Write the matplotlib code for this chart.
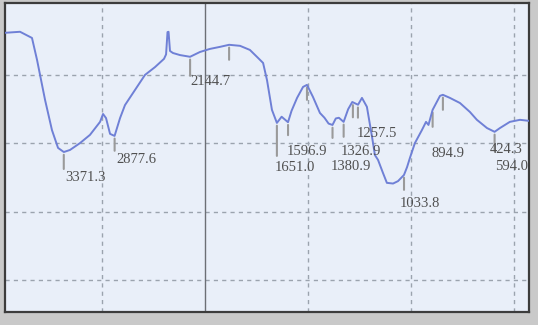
import numpy as np
import matplotlib
matplotlib.use("Agg")
import matplotlib.pyplot as plt

# IR transmittance spectrum (wavenumber in cm-1, transmittance in arbitrary %)
wavenumber = [3942, 3796, 3680, 3631, 3553, 3486, 3427, 3371, 3311, 3214, 3117, 3019,
              2990, 2961, 2922, 2878, 2825, 2777, 2680, 2583, 2485, 2398, 2378, 2364,
              2354, 2340, 2311, 2243, 2145, 2049, 1976, 1927, 1883, 1830, 1782, 1743,
              1718, 1699, 1675, 1651, 1628, 1597, 1580, 1553, 1524, 1505, 1476, 1442,
              1420, 1400, 1381, 1365, 1350, 1327, 1305, 1285, 1257, 1238, 1214, 1189,
              1175, 1160, 1136, 1117, 1087, 1063, 1034, 1019, 1005, 981, 947, 927,
              915, 895, 859, 845, 811, 762, 714, 680, 631, 594, 568, 520, 471, 427]
transmittance = [72.3, 72.6, 70.8, 64.4, 52.7, 43.9, 38.7, 37.5, 38.1, 40.1, 42.5, 46.3,
                 48.6, 47.4, 42.8, 42.2, 47.4, 51.2, 55.6, 60.0, 62.3, 64.7, 66.0, 72.5,
                 72.6, 67.0, 66.4, 65.8, 65.3, 66.7, 67.6, 68.2, 68.8, 68.5, 67.3, 65.0,
                 63.5, 58.5, 49.8, 46.0, 47.8, 46.2, 49.5, 53.3, 56.5, 57.1, 53.6, 48.9,
                 47.5, 45.8, 45.4, 47.3, 47.5, 46.3, 50.0, 52.1, 51.3, 53.3, 50.7, 41.9,
                 36.6, 35.2, 31.4, 28.5, 28.3, 29.0, 30.8, 33.1, 35.8, 40.1, 43.9, 46.3,
                 45.4, 49.8, 53.9, 54.2, 53.3, 51.8, 49.2, 46.9, 44.5, 43.4, 44.5, 46.3,
                 46.9, 46.6]

# Peak picks
peak_labels = ["3371.3", "2877.6", "2144.7", "1651.0", "1596.9", "1380.9",
               "1326.9", "1257.5", "1033.8", "894.9", "594.0", "424.3"]
peak_positions = [float(s) for s in peak_labels]
unlabeled_marks = [1883, 1505, 1282, 845]

# label placement (offset pixels from the pick point) and pick-mark lengths
label_dx = [1, 2, 0, -2, -1, -2, -3, -1, -4, -1, 0, -40]
label_dy = [-26, -24, -25, -45, -29, -42, -30, -29, -29, -44, -35, -29]
mark_len = [14, 12, 16, 30, 10, 10, 12, 10, 12, 14, 16, 12]


def fwd(w):
    w = np.asarray(w, dtype=float)
    return np.where(w > 2000, 2000 + (w - 2000) / 2.0, w)


def inv(u):
    u = np.asarray(u, dtype=float)
    return np.where(u > 2000, 2000 + (u - 2000) * 2.0, u)


def curve_at(w):
    return float(np.interp(w, wavenumber[::-1], transmittance[::-1]))


W, H = 538, 325
fig = plt.figure(figsize=(W / 100, H / 100), dpi=100, facecolor="#c9c9c9")
ax = fig.add_axes([5 / W, (H - 312) / H, (529 - 5) / W, (312 - 3) / H])
ax.set_facecolor("#e9eff9")

ax.set_xscale("function", functions=(fwd, inv))
ax.set_xlim(3942, 427)
ax.set_ylim(-9.2, 81.0)

ax.set_xticks([3000, 1500, 1000, 500])
ax.set_yticks([0, 20, 40, 60])
ax.grid(True, color="#9ba3ae", linestyle=(0, (3, 3)), linewidth=1.0)
ax.axvline(2000, color="#6c6f75", linewidth=1.0)
ax.tick_params(length=0, labelbottom=False, labelleft=False)

for s in ax.spines.values():
    s.set_color("#3c3c3c")
    s.set_linewidth(1.6)

ax.plot(wavenumber, transmittance, color="#6f80d6", linewidth=1.4, zorder=3,
        solid_joinstyle="round")

mark_color = "#9a9a9a"
for w, lab, dx, dy, L in zip(peak_positions, peak_labels, label_dx, label_dy, mark_len):
    t = curve_at(w)
    ax.annotate("", xy=(w, t), xytext=(0, -L - 3), textcoords="offset pixels",
                arrowprops=dict(arrowstyle="-", color=mark_color, lw=1.5,
                                shrinkA=0, shrinkB=2), zorder=2)
    txt = ax.annotate(lab, xy=(w, t), xytext=(dx, dy), textcoords="offset pixels",
                      ha="left", va="center", fontsize=10.5, color="#505050",
                      family="Liberation Serif", zorder=4, annotation_clip=False)
    txt.set_clip_on(True)
    txt.set_clip_box(ax.bbox)

for w in unlabeled_marks:
    t = curve_at(w)
    ax.annotate("", xy=(w, t), xytext=(0, -15), textcoords="offset pixels",
                arrowprops=dict(arrowstyle="-", color=mark_color, lw=1.5,
                                shrinkA=0, shrinkB=2), zorder=2)

fig.savefig("out.png", dpi=100, facecolor=fig.get_facecolor())
